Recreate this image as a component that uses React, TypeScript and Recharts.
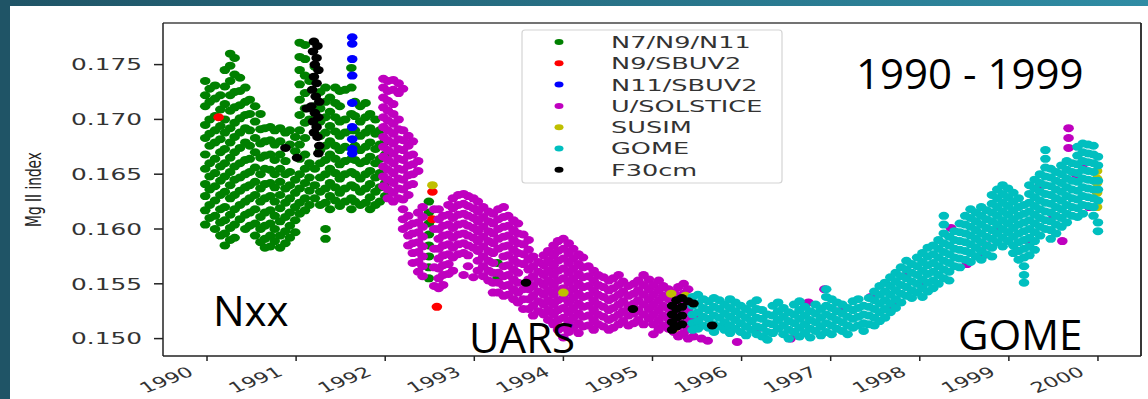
import React from 'react';
import { ScatterChart, Scatter, XAxis, YAxis, ReferenceLine } from 'recharts';

// Mg II index composite, 1990 - 1999. Strips are [year, values at that time].
type Strip = [number, number[]];
type Pair = [number, number];

const yearTicks = [1990, 1991, 1992, 1993, 1994, 1995, 1996, 1997, 1998, 1999, 2000];
const indexTicks = [0.15, 0.155, 0.16, 0.165, 0.17, 0.175];

const n7Strips: Strip[] = [
  [1989.98, [0.1735, 0.1722, 0.1712, 0.1695, 0.1683, 0.1668, 0.1655, 0.1641, 0.163, 0.1617, 0.1604]],
  [1990.03, [0.1728, 0.1716, 0.17, 0.1687, 0.1676, 0.166, 0.1648, 0.1636, 0.1622, 0.161]],
  [1990.09, [0.1731, 0.1719, 0.1703, 0.169, 0.1679, 0.1664, 0.1651, 0.1639, 0.1626, 0.1612, 0.16]],
  [1990.15, [0.1722, 0.1709, 0.1694, 0.1682, 0.167, 0.1657, 0.1644, 0.1631, 0.1618, 0.1606, 0.1594]],
  [1990.2, [0.1745, 0.173, 0.1714, 0.17, 0.1688, 0.1673, 0.166, 0.1648, 0.1634, 0.162, 0.1608, 0.1596, 0.1585]],
  [1990.26, [0.176, 0.1749, 0.1735, 0.1722, 0.1708, 0.1692, 0.1679, 0.1665, 0.1652, 0.164, 0.1628, 0.1613, 0.1601, 0.159]],
  [1990.31, [0.1756, 0.1741, 0.1725, 0.1711, 0.1697, 0.1684, 0.167, 0.1657, 0.1645, 0.1631, 0.1618, 0.1604, 0.1592]],
  [1990.37, [0.1738, 0.1726, 0.1713, 0.1701, 0.1688, 0.1674, 0.166, 0.1647, 0.1635, 0.1622, 0.1609]],
  [1990.43, [0.1729, 0.1716, 0.1704, 0.1692, 0.1679, 0.1663, 0.165, 0.1638, 0.1625, 0.1613, 0.16]],
  [1990.48, [0.1718, 0.1705, 0.169, 0.1676, 0.1664, 0.1652, 0.164, 0.1628, 0.1615, 0.1603]],
  [1990.54, [0.1712, 0.1698, 0.1683, 0.167, 0.1656, 0.1643, 0.1631, 0.1618, 0.1605, 0.1594]],
  [1990.6, [0.1705, 0.1691, 0.1678, 0.1665, 0.165, 0.1637, 0.1625, 0.1611, 0.16, 0.1588]],
  [1990.65, [0.1692, 0.168, 0.1667, 0.1655, 0.1641, 0.1628, 0.1615, 0.1603, 0.1591, 0.1583]],
  [1990.71, [0.1693, 0.1681, 0.1668, 0.1654, 0.1642, 0.163, 0.1617, 0.1605, 0.1594, 0.1584]],
  [1990.76, [0.169, 0.1677, 0.1663, 0.165, 0.1638, 0.1625, 0.1612, 0.16, 0.1589]],
  [1990.82, [0.1692, 0.168, 0.1668, 0.1655, 0.1643, 0.1631, 0.1619, 0.1607, 0.1594, 0.1583]],
  [1990.88, [0.1688, 0.1662, 0.165, 0.1637, 0.1624, 0.1611, 0.1598, 0.1587]],
  [1990.93, [0.169, 0.1677, 0.1652, 0.164, 0.1628, 0.1615, 0.1603, 0.1592]],
  [1990.99, [0.1684, 0.1671, 0.1645, 0.1633, 0.162, 0.1608, 0.1597]],
  [1991.04, [0.177, 0.1757, 0.1745, 0.1732, 0.1718, 0.1704, 0.169, 0.1677, 0.1664, 0.165, 0.1637, 0.1624, 0.1614]],
  [1991.1, [0.1768, 0.1755, 0.174, 0.1724, 0.171, 0.1697, 0.1683, 0.1668, 0.1655, 0.1642, 0.1628, 0.1617]],
  [1991.15, [0.1735, 0.17, 0.166, 0.1647, 0.1635, 0.1622]],
  [1991.21, [0.1748, 0.1712, 0.1655, 0.164, 0.1628]],
  [1991.27, [0.1725, 0.171, 0.1698, 0.1685, 0.1672, 0.166, 0.1647, 0.1634, 0.1622]],
  [1991.33, [0.1729, 0.1716, 0.1702, 0.1688, 0.1676, 0.1663, 0.165, 0.1637, 0.1624, 0.16, 0.1591]],
  [1991.38, [0.172, 0.1707, 0.1694, 0.168, 0.1668, 0.1655, 0.1642, 0.163, 0.1618]],
  [1991.44, [0.1729, 0.1715, 0.1702, 0.1689, 0.1676, 0.1664, 0.1651, 0.1638, 0.1626]],
  [1991.49, [0.1726, 0.1712, 0.1698, 0.1685, 0.1672, 0.1659, 0.1646, 0.1633, 0.1621]],
  [1991.55, [0.1727, 0.17, 0.1688, 0.1675, 0.1662, 0.165, 0.1637, 0.1625]],
  [1991.62, [0.1747, 0.1729, 0.1705, 0.169, 0.1664, 0.1652, 0.164, 0.1628, 0.1618]],
  [1991.66, [0.1716, 0.1703, 0.169, 0.1676, 0.1663, 0.165, 0.1638, 0.1625]],
  [1991.72, [0.1712, 0.1698, 0.1685, 0.1672, 0.166, 0.1646, 0.1634, 0.1622]],
  [1991.78, [0.1715, 0.1702, 0.1688, 0.1675, 0.1662, 0.165, 0.1637, 0.1624]],
  [1991.83, [0.1705, 0.1692, 0.1679, 0.1666, 0.1653, 0.1641, 0.1629, 0.1618]],
  [1991.89, [0.17, 0.1687, 0.1673, 0.166, 0.1647, 0.1634, 0.1622]],
  [1991.94, [0.169, 0.1677, 0.1664, 0.1651, 0.1638, 0.1625]],
  [1992.0, [0.168, 0.1668, 0.1655, 0.1642, 0.163]],
  [1992.49, [0.1625, 0.1615, 0.1605, 0.1595, 0.1585, 0.1575, 0.1565, 0.1555]],
  [1993.26, [0.1569, 0.1555]],
];

const n9Pairs: Pair[] = [
  [1990.13, 0.1702], [1992.53, 0.1634], [1992.53, 0.1609], [1992.58, 0.1529],
];

const n11Pairs: Pair[] = [
  [1991.63, 0.1775], [1991.63, 0.1769], [1991.63, 0.1755], [1991.63, 0.174], [1991.63, 0.1715],
  [1991.63, 0.1693], [1991.63, 0.1682], [1991.63, 0.1673], [1991.63, 0.1669],
];

const solsticeStrips: Strip[] = [
  [1991.98, [0.1737, 0.1729, 0.172, 0.1711, 0.1702, 0.1693, 0.1684, 0.1675, 0.1666, 0.1657, 0.1648, 0.1639]],
  [1992.03, [0.1735, 0.1726, 0.1717, 0.1708, 0.1699, 0.169, 0.1681, 0.1672, 0.1663, 0.1654, 0.1645, 0.1636, 0.1628]],
  [1992.09, [0.1736, 0.1727, 0.1714, 0.1705, 0.1696, 0.1687, 0.1678, 0.1669, 0.166, 0.1651, 0.1642, 0.1633, 0.1625]],
  [1992.15, [0.1733, 0.1724, 0.17, 0.1691, 0.1682, 0.1673, 0.1664, 0.1655, 0.1646, 0.1637, 0.1628]],
  [1992.2, [0.1728, 0.169, 0.1681, 0.1672, 0.1663, 0.1654, 0.1645, 0.1636, 0.1627, 0.1618, 0.1609, 0.16]],
  [1992.26, [0.1685, 0.1676, 0.1667, 0.1658, 0.1649, 0.164, 0.1631, 0.1612, 0.1603, 0.1594, 0.1585]],
  [1992.31, [0.168, 0.1668, 0.1659, 0.165, 0.1641, 0.1605, 0.1596, 0.1587, 0.1578, 0.1569]],
  [1992.37, [0.1662, 0.1653, 0.1615, 0.1606, 0.1597, 0.1588, 0.1579, 0.157, 0.1561]],
  [1992.42, [0.162, 0.1611, 0.1602, 0.1593, 0.1584, 0.1575, 0.1566, 0.1557]],
  [1992.55, [0.1618, 0.16, 0.1582, 0.1565, 0.1548]],
  [1992.6, [0.1618, 0.1609, 0.16, 0.1591, 0.1582, 0.1573, 0.1564, 0.1555, 0.1546]],
  [1992.65, [0.1612, 0.1603, 0.1594, 0.1585, 0.1576, 0.1567, 0.1558, 0.1549]],
  [1992.71, [0.1622, 0.1613, 0.1604, 0.1595, 0.1586, 0.1577, 0.1568, 0.1559]],
  [1992.76, [0.1628, 0.1619, 0.161, 0.1601, 0.1592, 0.1583, 0.1574, 0.1562]],
  [1992.82, [0.1631, 0.1622, 0.1613, 0.1604, 0.1595, 0.1586, 0.1577]],
  [1992.88, [0.1632, 0.1623, 0.1614, 0.1605, 0.1596, 0.1587, 0.1578, 0.1558]],
  [1992.93, [0.163, 0.1621, 0.1612, 0.1603, 0.1594, 0.1585, 0.1576, 0.1566]],
  [1992.99, [0.1628, 0.1619, 0.161, 0.1601, 0.1592, 0.1583, 0.1556]],
  [1993.04, [0.1625, 0.1616, 0.1607, 0.1598, 0.1589, 0.158, 0.1571, 0.1562]],
  [1993.1, [0.162, 0.1611, 0.1602, 0.1593, 0.1584, 0.1575, 0.1566, 0.1557]],
  [1993.16, [0.1616, 0.1607, 0.1598, 0.1589, 0.158, 0.1571, 0.1562, 0.1553]],
  [1993.21, [0.1614, 0.1605, 0.1596, 0.1587, 0.1578, 0.1569, 0.156, 0.1551, 0.1542]],
  [1993.27, [0.1618, 0.1609, 0.16, 0.1591, 0.1582, 0.156, 0.1551, 0.1542]],
  [1993.33, [0.162, 0.1611, 0.1602, 0.1593, 0.1584, 0.1575, 0.1566, 0.1557, 0.1548, 0.1539]],
  [1993.38, [0.1612, 0.1603, 0.1594, 0.1585, 0.1576, 0.1567, 0.1558, 0.1549, 0.154]],
  [1993.44, [0.1608, 0.1599, 0.159, 0.1581, 0.1572, 0.1563, 0.1554, 0.1545, 0.1536]],
  [1993.49, [0.1605, 0.1596, 0.1587, 0.1578, 0.1569, 0.156, 0.1551, 0.1542, 0.1533]],
  [1993.55, [0.1595, 0.1586, 0.1577, 0.1568, 0.1545, 0.1536, 0.1527]],
  [1993.61, [0.159, 0.1581, 0.1572, 0.1563, 0.1554, 0.1545, 0.1536, 0.1527]],
  [1993.66, [0.1575, 0.1566, 0.1557, 0.1548, 0.1539, 0.153, 0.1521]],
  [1993.72, [0.157, 0.1561, 0.1552, 0.1543, 0.1534, 0.1525]],
  [1993.78, [0.1576, 0.1567, 0.1558, 0.1549, 0.154, 0.1531, 0.1522]],
  [1993.83, [0.158, 0.1571, 0.1562, 0.1553, 0.1544, 0.1535, 0.1526, 0.1517]],
  [1993.89, [0.1585, 0.1576, 0.1567, 0.1558, 0.1549, 0.154, 0.1531, 0.1522, 0.1513]],
  [1993.94, [0.1589, 0.158, 0.1571, 0.1562, 0.1553, 0.1544, 0.1535, 0.1526, 0.1517, 0.1508]],
  [1994.0, [0.1591, 0.1582, 0.1573, 0.1564, 0.1555, 0.1546, 0.1537, 0.1528, 0.1519, 0.151, 0.1501]],
  [1994.06, [0.1587, 0.1578, 0.1569, 0.156, 0.1551, 0.1542, 0.1533, 0.1524, 0.1515, 0.1506]],
  [1994.11, [0.1582, 0.1573, 0.1564, 0.1555, 0.1546, 0.1537, 0.1528, 0.1519, 0.151]],
  [1994.17, [0.1577, 0.1568, 0.1559, 0.155, 0.1541, 0.1532, 0.1523, 0.1514, 0.1505]],
  [1994.22, [0.1574, 0.1565, 0.1556, 0.1547, 0.1538, 0.1529, 0.152, 0.1511]],
  [1994.28, [0.1566, 0.1557, 0.1548, 0.1539, 0.153, 0.1521, 0.1512]],
  [1994.34, [0.1562, 0.1553, 0.1544, 0.1535, 0.1526, 0.1517, 0.1508]],
  [1994.39, [0.1558, 0.1549, 0.154, 0.1531, 0.1522, 0.1513]],
  [1994.45, [0.1556, 0.1547, 0.1538, 0.1529, 0.152, 0.1511]],
  [1994.51, [0.1553, 0.1544, 0.1535, 0.1526, 0.1517, 0.1508]],
  [1994.56, [0.1555, 0.1546, 0.1537, 0.1528, 0.1519, 0.151]],
  [1994.62, [0.1558, 0.1549, 0.154, 0.1531, 0.1522, 0.1513]],
  [1994.67, [0.1552, 0.1543, 0.1534, 0.1525, 0.1516]],
  [1994.73, [0.1548, 0.1539, 0.153, 0.1521, 0.1512]],
  [1994.79, [0.155, 0.1541, 0.1532, 0.1523, 0.1514]],
  [1994.84, [0.1553, 0.1544, 0.1535, 0.1526, 0.1517]],
  [1994.9, [0.1558, 0.1549, 0.154, 0.1531, 0.1522, 0.1513]],
  [1994.96, [0.1554, 0.1545, 0.1536, 0.1527, 0.1518]],
  [1995.01, [0.1549, 0.154, 0.1531, 0.1522, 0.1513, 0.1504]],
  [1995.07, [0.1553, 0.1544, 0.1535, 0.1526, 0.1517, 0.1508]],
  [1995.12, [0.1548, 0.1539, 0.153, 0.1521, 0.1512]],
  [1995.18, [0.1545, 0.1536, 0.1527, 0.1518, 0.1509]],
  [1995.24, [0.1542, 0.1533, 0.1524, 0.1515, 0.1506]],
  [1995.29, [0.1547, 0.1538, 0.1529, 0.152, 0.1511, 0.1502]],
  [1995.35, [0.155, 0.1541, 0.1532, 0.1523, 0.1514, 0.1505]],
  [1995.4, [0.1545, 0.1536, 0.1527, 0.1518, 0.1509, 0.15]],
  [1995.46, [0.152, 0.1511, 0.1502]],
];

// SOLSTICE days that peek out from under GOME
const solsticeLatePairs: Pair[] = [
  [1995.55, 0.15], [1995.62, 0.1498], [1995.95, 0.1497], [1996.2, 0.151], [1996.55, 0.15],
  [1996.75, 0.1533], [1996.93, 0.1545], [1997.1, 0.1525], [1997.45, 0.1538], [1997.7, 0.153],
  [1997.85, 0.1558], [1998.0, 0.155], [1998.35, 0.1601], [1998.53, 0.1568], [1998.71, 0.1576],
  [1998.75, 0.1585], [1998.85, 0.1598], [1999.1, 0.158], [1999.2, 0.159], [1999.35, 0.164],
  [1999.5, 0.1612], [1999.6, 0.1589], [1999.67, 0.1692], [1999.67, 0.1683], [1999.67, 0.1674],
  [1999.75, 0.165], [1999.85, 0.166], [1999.9, 0.162],
];

const susimPairs: Pair[] = [
  [1992.53, 0.164], [1994.0, 0.1542], [1995.21, 0.1541], [1995.37, 0.1539], [1995.24, 0.1509],
  [1999.99, 0.1653], [1999.99, 0.1646], [1999.99, 0.1642], [1999.99, 0.1633], [1999.99, 0.162],
];

const gomeStrips: Strip[] = [
  [1995.45, [0.1538, 0.153, 0.1522, 0.1514, 0.1508]],
  [1995.51, [0.154, 0.1532, 0.1524, 0.1516, 0.1509]],
  [1995.57, [0.1536, 0.1528, 0.152, 0.1512]],
  [1995.63, [0.1534, 0.1526, 0.1518, 0.151]],
  [1995.69, [0.1537, 0.1529, 0.1521, 0.1513, 0.1506]],
  [1995.75, [0.1535, 0.1527, 0.1519, 0.1511]],
  [1995.81, [0.1531, 0.1523, 0.1515, 0.1508]],
  [1995.87, [0.1536, 0.1528, 0.152, 0.1512, 0.1505]],
  [1995.93, [0.1533, 0.1525, 0.1517, 0.1509]],
  [1995.99, [0.153, 0.1522, 0.1514, 0.1506]],
  [1996.05, [0.1527, 0.1519, 0.1511, 0.1503]],
  [1996.11, [0.1532, 0.1524, 0.1516, 0.1508]],
  [1996.17, [0.1535, 0.1527, 0.1519, 0.1511, 0.1504]],
  [1996.23, [0.1526, 0.1518, 0.151, 0.1502]],
  [1996.29, [0.1522, 0.1514, 0.1506, 0.1499]],
  [1996.35, [0.153, 0.1521, 0.1513, 0.1505]],
  [1996.41, [0.1533, 0.1525, 0.1517, 0.1509]],
  [1996.47, [0.1528, 0.152, 0.1512, 0.1504]],
  [1996.53, [0.1524, 0.1516, 0.1508, 0.15]],
  [1996.59, [0.1531, 0.1522, 0.1514, 0.1506]],
  [1996.65, [0.1534, 0.1526, 0.1518, 0.151, 0.1502]],
  [1996.71, [0.1529, 0.1521, 0.1513, 0.1505]],
  [1996.77, [0.1525, 0.1517, 0.1509, 0.1501]],
  [1996.83, [0.1531, 0.1523, 0.1515, 0.1507]],
  [1996.89, [0.1527, 0.1519, 0.1511, 0.1503]],
  [1996.95, [0.1545, 0.1538, 0.153, 0.1522, 0.1514, 0.1506]],
  [1997.01, [0.1536, 0.1528, 0.152, 0.1512, 0.1504]],
  [1997.07, [0.1533, 0.1525, 0.1517, 0.1509]],
  [1997.13, [0.1531, 0.1523, 0.1515, 0.1507]],
  [1997.19, [0.1528, 0.152, 0.1512, 0.1504]],
  [1997.25, [0.1534, 0.1526, 0.1518, 0.151]],
  [1997.31, [0.1536, 0.1528, 0.152, 0.1512]],
  [1997.37, [0.153, 0.1522, 0.1514, 0.1507]],
  [1997.43, [0.1537, 0.1529, 0.1521, 0.1513]],
  [1997.49, [0.1543, 0.1535, 0.1527, 0.1519, 0.1512]],
  [1997.55, [0.1548, 0.154, 0.1532, 0.1524, 0.1516]],
  [1997.61, [0.1551, 0.1543, 0.1535, 0.1527, 0.1519]],
  [1997.67, [0.1556, 0.1548, 0.154, 0.1532, 0.1524]],
  [1997.73, [0.156, 0.1552, 0.1544, 0.1536, 0.1528]],
  [1997.79, [0.1565, 0.1557, 0.1549, 0.1541, 0.1533]],
  [1997.85, [0.1571, 0.1563, 0.1555, 0.1547, 0.1539]],
  [1997.91, [0.1568, 0.156, 0.1552, 0.1544, 0.1537]],
  [1997.97, [0.1574, 0.1566, 0.1558, 0.155, 0.1542]],
  [1998.03, [0.1578, 0.157, 0.1562, 0.1554, 0.1546, 0.1538]],
  [1998.09, [0.1583, 0.1575, 0.1567, 0.1559, 0.1551, 0.1543]],
  [1998.15, [0.1585, 0.1577, 0.1569, 0.1561, 0.1553, 0.1546]],
  [1998.21, [0.159, 0.1582, 0.1574, 0.1566, 0.1558, 0.155]],
  [1998.27, [0.1612, 0.1604, 0.1596, 0.1587, 0.1579, 0.1571, 0.1563, 0.1555]],
  [1998.33, [0.1593, 0.1585, 0.1577, 0.1569, 0.1561, 0.1553]],
  [1998.39, [0.1598, 0.159, 0.1582, 0.1574, 0.1566]],
  [1998.45, [0.1605, 0.1597, 0.1589, 0.1581, 0.1573, 0.1565]],
  [1998.51, [0.1612, 0.1604, 0.1596, 0.1588, 0.158, 0.1572]],
  [1998.57, [0.1618, 0.161, 0.1602, 0.1594, 0.1586, 0.1578, 0.157]],
  [1998.63, [0.1615, 0.1607, 0.1599, 0.1591, 0.1583, 0.1575]],
  [1998.69, [0.162, 0.1612, 0.1604, 0.1596, 0.1588, 0.158, 0.1572]],
  [1998.75, [0.1617, 0.1609, 0.1601, 0.1593, 0.1585, 0.1577]],
  [1998.81, [0.1631, 0.1623, 0.1615, 0.1607, 0.1599, 0.1591, 0.1583, 0.1575]],
  [1998.87, [0.1636, 0.1628, 0.162, 0.1612, 0.1604, 0.1596, 0.1588]],
  [1998.93, [0.164, 0.1632, 0.1624, 0.1616, 0.1608, 0.16, 0.1592, 0.1584]],
  [1998.99, [0.1637, 0.1629, 0.1621, 0.1613, 0.1605, 0.1597, 0.1589]],
  [1999.05, [0.1633, 0.1625, 0.1617, 0.1609, 0.1601, 0.1593, 0.1585, 0.1578]],
  [1999.11, [0.1628, 0.162, 0.1612, 0.1604, 0.1596, 0.1588, 0.158, 0.1572]],
  [1999.17, [0.1622, 0.1614, 0.1606, 0.1598, 0.159, 0.1582, 0.1574, 0.1566, 0.1558, 0.1551]],
  [1999.23, [0.164, 0.1632, 0.1624, 0.1616, 0.1608, 0.16, 0.1592, 0.1584, 0.1576]],
  [1999.29, [0.1645, 0.1637, 0.1629, 0.1621, 0.1613, 0.1605, 0.1597, 0.1589, 0.1581]],
  [1999.35, [0.165, 0.1642, 0.1634, 0.1626, 0.1618, 0.161, 0.1602, 0.1594]],
  [1999.41, [0.1672, 0.1664, 0.1656, 0.1648, 0.164, 0.1632, 0.1624, 0.1616, 0.1608, 0.16]],
  [1999.47, [0.1655, 0.1647, 0.1639, 0.1631, 0.1623, 0.1615, 0.1607, 0.1599, 0.1591]],
  [1999.53, [0.1652, 0.1644, 0.1636, 0.1628, 0.162, 0.1612, 0.1604, 0.1596]],
  [1999.59, [0.1658, 0.165, 0.1642, 0.1634, 0.1626, 0.1618, 0.161, 0.1602]],
  [1999.65, [0.1662, 0.1654, 0.1646, 0.1638, 0.163, 0.1622, 0.1614, 0.1606]],
  [1999.71, [0.166, 0.1652, 0.1644, 0.1636, 0.1628, 0.162, 0.1612]],
  [1999.77, [0.1675, 0.1667, 0.1659, 0.1651, 0.1643, 0.1635, 0.1627, 0.1619, 0.1611]],
  [1999.83, [0.1678, 0.167, 0.1662, 0.1654, 0.1646, 0.1638, 0.163, 0.1622, 0.1614]],
  [1999.89, [0.1677, 0.1669, 0.1661, 0.1653, 0.1645, 0.1637, 0.1629, 0.1621]],
  [1999.95, [0.1676, 0.1668, 0.166, 0.1652, 0.1644, 0.1636, 0.1628, 0.162, 0.1612]],
  [2000.0, [0.1666, 0.1658, 0.1644, 0.1636, 0.1626, 0.1606, 0.1598]],
];

const f30Pairs: Pair[] = [
  [1990.88, 0.1674], [1991.01, 0.1665],
  [1991.2, 0.1771], [1991.24, 0.1767], [1991.19, 0.1762], [1991.23, 0.1756], [1991.21, 0.175],
  [1991.25, 0.1745], [1991.2, 0.1739], [1991.23, 0.1733], [1991.18, 0.1727], [1991.22, 0.1721],
  [1991.26, 0.1716], [1991.17, 0.1712], [1991.12, 0.171], [1991.21, 0.1706], [1991.25, 0.1702],
  [1991.19, 0.1698], [1991.23, 0.1693], [1991.2, 0.1688], [1991.24, 0.1684], [1991.26, 0.1676],
  [1991.25, 0.1669],
  [1993.58, 0.1551], [1994.78, 0.1527],
  [1995.22, 0.153], [1995.22, 0.1522], [1995.22, 0.1515], [1995.22, 0.1508],
  [1995.27, 0.1535], [1995.27, 0.1527], [1995.27, 0.1519], [1995.27, 0.1511],
  [1995.33, 0.1537], [1995.33, 0.1529], [1995.33, 0.1521], [1995.33, 0.1513],
  [1995.4, 0.1534], [1995.46, 0.1532], [1995.67, 0.1512],
];

const fromStrips = (strips: Strip[]) => strips.flatMap(([x, ys]) => ys.map((y) => ({ x, y })));
const fromPairs = (pairs: Pair[]) => pairs.map(([x, y]) => ({ x, y }));

const series = [
  { name: 'N7/N9/N11', color: '#008000', data: fromStrips(n7Strips) },
  { name: 'N9/SBUV2', color: '#ff0000', data: fromPairs(n9Pairs) },
  { name: 'N11/SBUV2', color: '#0000ff', data: fromPairs(n11Pairs) },
  { name: 'U/SOLSTICE', color: '#bf00bf', data: [...fromStrips(solsticeStrips), ...fromPairs(solsticeLatePairs)] },
  { name: 'SUSIM', color: '#bfbf00', data: fromPairs(susimPairs) },
  { name: 'GOME', color: '#00bfbf', data: fromStrips(gomeStrips) },
  { name: 'F30cm', color: '#000000', data: fromPairs(f30Pairs) },
];

const xDomain = [1989.506, 2000.483];
const yDomain = [0.148412, 0.178796];
const ink = '#222';
const SX = 1.55; // the source image is stretched sideways

const dot = (color: string) => (props: any) =>
  props.cx == null ? <g /> : <ellipse cx={props.cx} cy={props.cy} rx={5.3} ry={4} fill={color} />;

const XTick = (props: any) => {
  const { x, payload } = props;
  return (
    <g transform={`translate(${x - 12},375) scale(${SX},1) rotate(-30)`}>
      <text textAnchor="end" fontSize={14.5} fill="#333" fontFamily="DejaVu Sans">
        {payload.value}
      </text>
    </g>
  );
};

const YTick = (props: any) => {
  const { x, y, payload } = props;
  return (
    <g transform={`translate(${x},${y}) scale(${SX},1)`}>
      <text textAnchor="end" dy="0.36em" fontSize={16} fill="#333" fontFamily="DejaVu Sans">
        {Number(payload.value).toFixed(3)}
      </text>
    </g>
  );
};

const notes = [
  { text: '1990 - 1999', x: 856, y: 89 },
  { text: 'Nxx', x: 213, y: 326 },
  { text: 'UARS', x: 469, y: 353 },
  { text: 'GOME', x: 958, y: 350 },
];

export default function App() {
  return (
    <div style={{ position: 'fixed', left: 0, top: 0, width: 1148, height: 399, background: '#fff', overflow: 'hidden' }}>
      <svg width={1148} height={399} style={{ position: 'absolute', left: 0, top: 0 }}>
        <defs>
          <linearGradient id="band" x1="0" x2="1" y1="0" y2="0">
            <stop offset="0" stopColor="#1f5466" />
            <stop offset="1" stopColor="#2f8ca4" />
          </linearGradient>
        </defs>
        <rect x={0} y={0} width={1148} height={6} fill="url(#band)" />
        <rect x={0} y={0} width={10} height={399} fill="#1f5466" />
      </svg>
      <div style={{ position: 'absolute', left: 0, top: 0 }}>
        <ScatterChart width={1148} height={399} margin={{ top: 23, right: 7, bottom: 0, left: 63 }}>
          <XAxis
            type="number"
            dataKey="x"
            domain={xDomain}
            ticks={yearTicks}
            interval={0}
            allowDataOverflow
            height={43}
            tickSize={5}
            tick={<XTick />}
            axisLine={{ stroke: ink, strokeWidth: 1.5 }}
            tickLine={{ stroke: ink, strokeWidth: 1.5 }}
          />
          <YAxis
            type="number"
            dataKey="y"
            domain={yDomain}
            ticks={indexTicks}
            interval={0}
            allowDataOverflow
            width={100}
            tickSize={9}
            tickMargin={12}
            tick={<YTick />}
            axisLine={{ stroke: ink, strokeWidth: 1.5 }}
            tickLine={{ stroke: ink, strokeWidth: 1.5 }}
          />
          {series.map((s) => (
            <Scatter key={s.name} name={s.name} data={s.data} fill={s.color} shape={dot(s.color)} isAnimationActive={false} />
          ))}
          {/* top and right spines of the matplotlib frame */}
          <ReferenceLine y={yDomain[1]} stroke="#444" strokeWidth={1.5} />
          <ReferenceLine x={xDomain[1]} stroke={ink} strokeWidth={1.8} />
        </ScatterChart>
      </div>
      <svg width={1148} height={399} style={{ position: 'absolute', left: 0, top: 0, pointerEvents: 'none' }}>
        <g transform={`translate(40.5,189.5) scale(${SX},1) rotate(-90)`}>
          <text textAnchor="middle" fontSize={13.7} fill={ink} fontFamily="DejaVu Sans">
            Mg II index
          </text>
        </g>
        <rect x={522} y={30} width={260} height={153} rx={3} fill="#fff" fillOpacity={0.8} stroke="#d4d4d4" strokeWidth={1.2} />
        {series.map((s, i) => (
          <g key={s.name} transform={`translate(0,${42 + i * 21.3})`}>
            <ellipse cx={559} cy={0} rx={4.5} ry={3} fill={s.color} />
            <g transform={`translate(611,0) scale(${SX},1)`}>
              <text dy="0.36em" fontSize={16.5} fill="#333" fontFamily="DejaVu Sans">
                {s.name}
              </text>
            </g>
          </g>
        ))}
        {notes.map((n) => (
          <text key={n.text} x={n.x} y={n.y} fontSize={42} fill="#000" fontFamily="Open Sans">
            {n.text}
          </text>
        ))}
      </svg>
    </div>
  );
}
